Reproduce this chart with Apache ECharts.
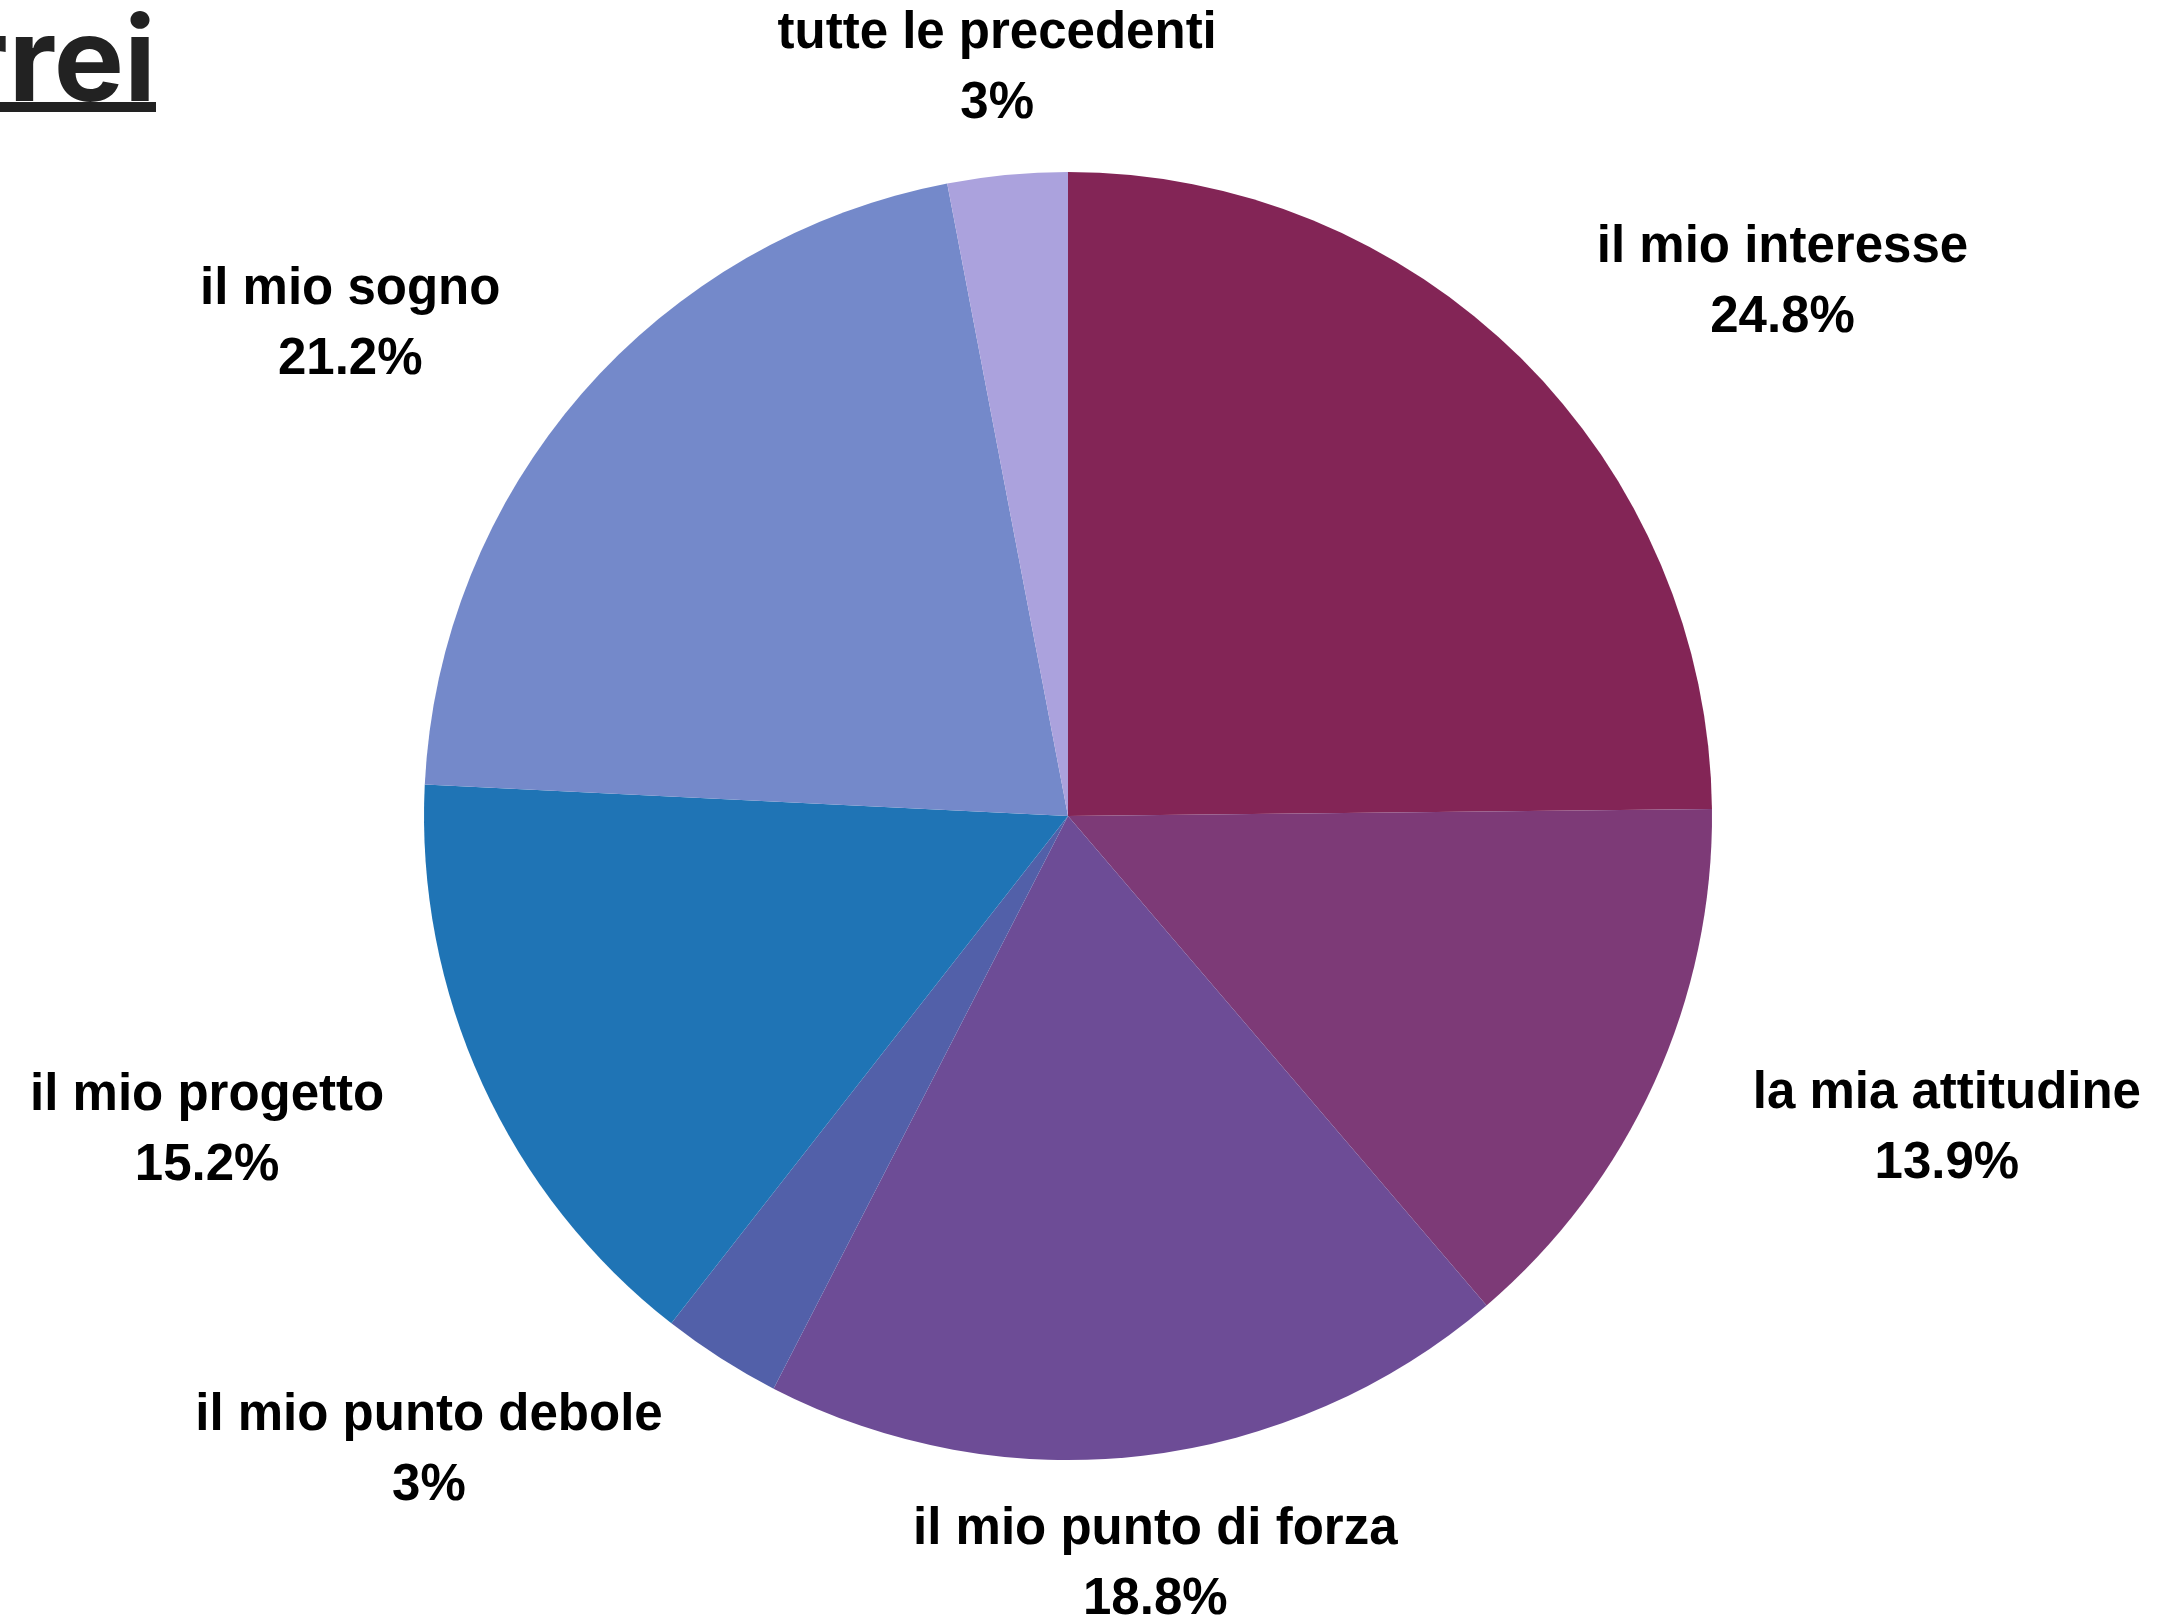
<!DOCTYPE html>
<html>
<head>
<meta charset="utf-8">
<script src="https://cdn.jsdelivr.net/npm/echarts@6/dist/echarts.min.js"></script>
<style>
html,body{margin:0;padding:0;background:#fff;}
#chart{width:2163px;height:1619px;}
</style>
</head>
<body>
<div id="chart"></div>
<script>
const titleText = 'rrei';
const categories = ['il mio interesse', 'la mia attitudine', 'il mio punto di forza', 'il mio punto debole', 'il mio progetto', 'il mio sogno', 'tutte le precedenti'];
const values = [24.8, 13.9, 18.8, 3, 15.2, 21.2, 3];
const colors = ['#832556', '#7d3a77', '#6d4c96', '#5260a9', '#1f74b5', '#7489ca', '#aba2dd'];

const CX = 1068, CY = 816, R = 644, LABEL_R = 752;
const total = values.reduce((a, b) => a + b, 0);

const chart = echarts.init(document.getElementById('chart'));
chart.setOption({
  backgroundColor: '#ffffff',
  animation: false,
  color: colors,
  graphic: [
    {
      type: 'text', x: 156, y: 66,
      style: { text: titleText, align: 'right', verticalAlign: 'middle', fill: '#222222',
        font: 'bold 118px Inter, Roboto, sans-serif' }
    },
    { type: 'rect', shape: { x: 0, y: 102, width: 156, height: 10 }, style: { fill: '#222222' } }
  ],
  series: [{
    type: 'pie',
    center: [CX, CY],
    radius: R,
    startAngle: 90,
    clockwise: true,
    avoidLabelOverlap: false,
    itemStyle: { borderWidth: 0 },
    label: {
      show: true,
      position: 'outside',
      formatter: p => p.name + '\n' + p.value + '%',
      fontFamily: '"Liberation Sans", Arial, sans-serif',
      fontWeight: 'bold',
      fontSize: 51,
      lineHeight: 70,
      color: '#000000',
      align: 'center'
    },
    labelLine: { show: false },
    labelLayout: function (p) {
      const i = p.dataIndex;
      let before = 0;
      for (let j = 0; j < i; j++) before += values[j];
      const mid = (before + values[i] / 2) / total * Math.PI * 2;
      const sx = Math.sin(mid), sy = -Math.cos(mid);
      const ax = CX + LABEL_R * sx, ay = CY + LABEL_R * sy;
      const hw = p.labelRect.width / 2;
      const x = sx > 0.3 ? ax + hw : (sx < -0.3 ? ax - hw : ax);
      return { x: x, y: ay + 2, align: 'center', verticalAlign: 'middle' };
    },
    data: categories.map((c, i) => ({ name: c, value: values[i] }))
  }]
});
</script>
</body>
</html>
